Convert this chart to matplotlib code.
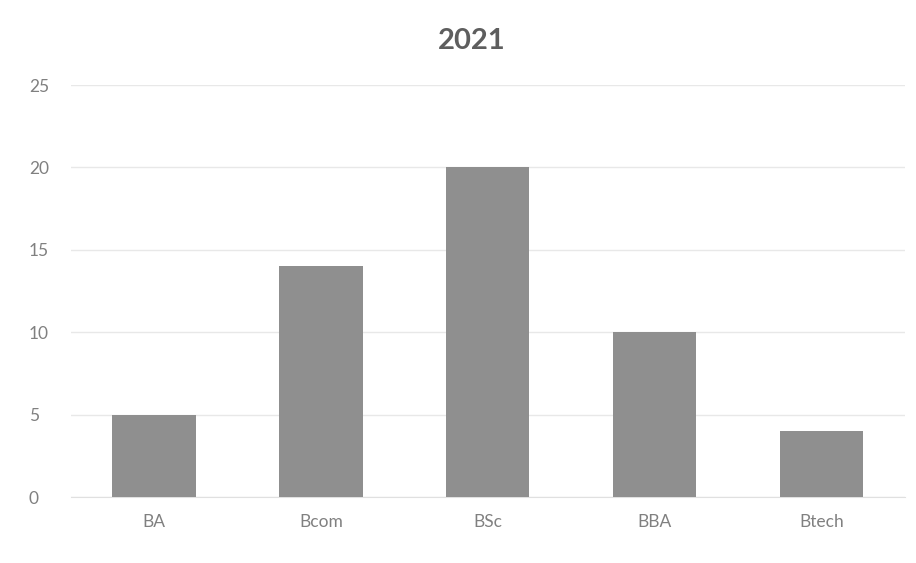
import matplotlib.pyplot as plt

categories = ["BA", "Bcom", "BSc", "BBA", "Btech"]
counts = [5, 14, 20, 10, 4]
yticks = [0, 5, 10, 15, 20, 25]

plt.rcParams['font.family'] = ['Lato', 'DejaVu Sans']

fig = plt.figure(figsize=(9.16, 5.63), dpi=100)
ax = fig.add_axes([0.077, 0.117, 0.911, 0.732])

x = range(len(categories))
ax.bar(x, counts, width=0.5, color="#8f8f8f", zorder=3)

ax.set_xlim(-0.5, len(categories) - 0.5)
ax.set_ylim(0, 25)
ax.set_yticks(yticks)
ax.set_xticks(list(x))
ax.set_xticklabels(categories)

ax.grid(axis="y", color="#e8e8e8", linewidth=1, zorder=0)
for side in ["top", "right", "left"]:
    ax.spines[side].set_visible(False)
ax.spines["bottom"].set_color("#e0e0e0")
ax.tick_params(axis="both", length=0, labelsize=12.5, colors="#808080")
ax.tick_params(axis="x", pad=12)
ax.tick_params(axis="y", pad=30)
# y labels start at a common left edge
for lbl in ax.get_yticklabels():
    lbl.set_horizontalalignment("left")

fig.text(0.515, 0.927, "2021", ha="center", va="center",
         fontsize=21, fontweight="bold", color="#5e5e5e")

fig.savefig("out.png", dpi=100, facecolor="white")
